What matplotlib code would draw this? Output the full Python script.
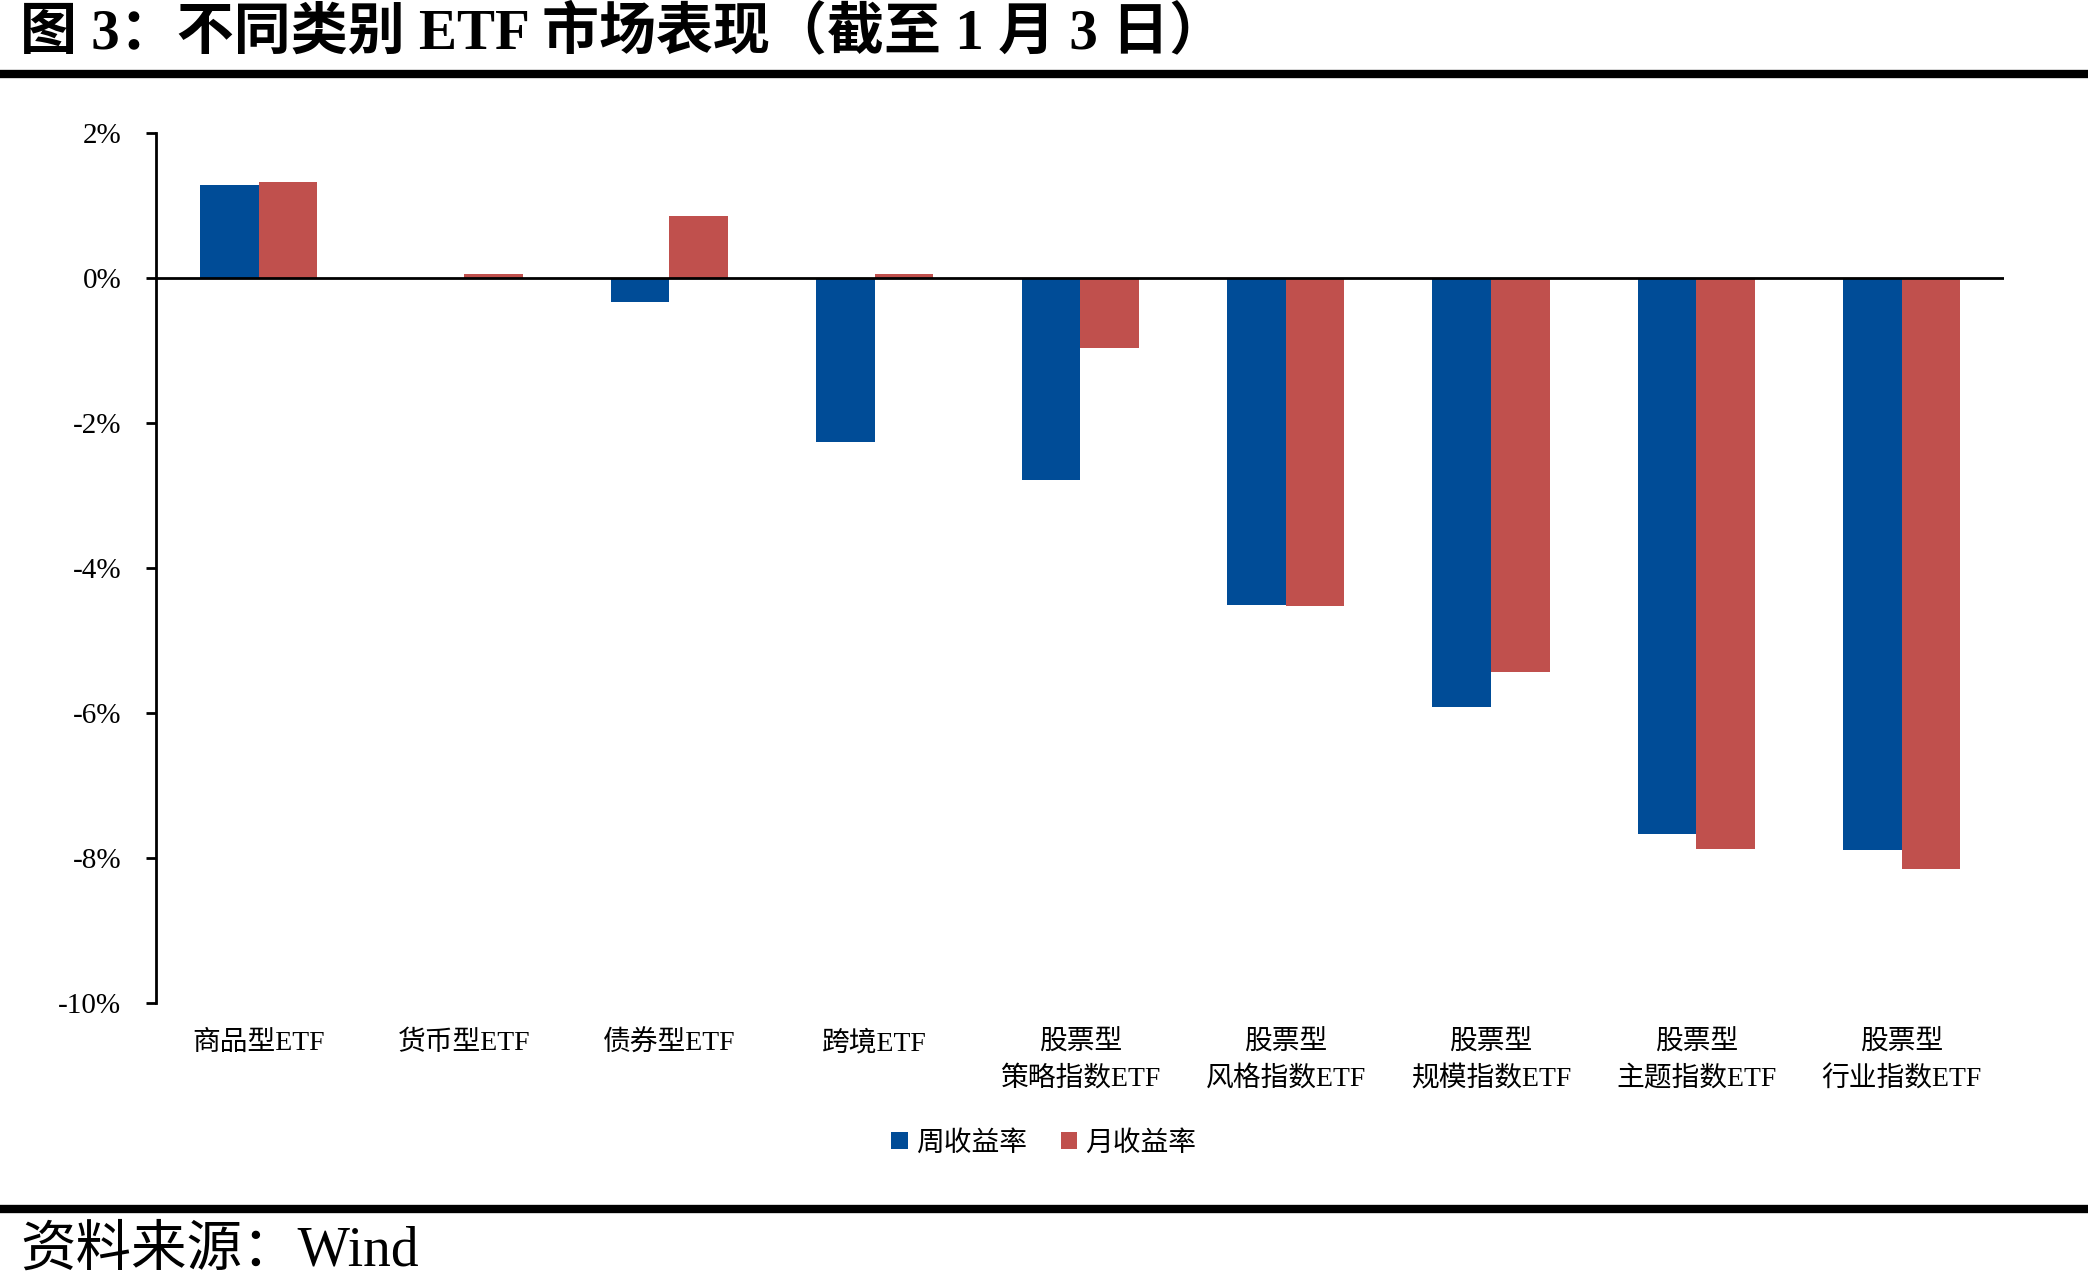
import matplotlib
matplotlib.use("Agg")
import matplotlib.pyplot as plt
import numpy as np
from matplotlib.lines import Line2D

plt.rcParams['font.family'] = ['Liberation Serif', 'Noto Sans CJK SC']

# data (%)
categories = ['商品型ETF', '货币型ETF', '债券型ETF', '跨境ETF',
              '股票型\n策略指数ETF', '股票型\n风格指数ETF', '股票型\n规模指数ETF',
              '股票型\n主题指数ETF', '股票型\n行业指数ETF']
weekly = [1.29, 0.00, -0.33, -2.26, -2.79, -4.51, -5.91, -7.67, -7.89]
monthly = [1.32, 0.06, 0.86, 0.05, -0.97, -4.53, -5.43, -7.87, -8.15]
series_names = ['周收益率', '月收益率']
yticks = [2, 0, -2, -4, -6, -8, -10]

color_w = '#004C97'
color_m = '#C0504D'

fig = plt.figure(figsize=(20.88, 12.82), dpi=100)
ax = fig.add_axes([0.0747, 0.2176, 0.8853, 0.6786])

x = np.arange(len(categories))
w = 0.285
ax.bar(x - w / 2, weekly, width=w, color=color_w, label=series_names[0], zorder=2)
ax.bar(x + w / 2, monthly, width=w, color=color_m, label=series_names[1], zorder=2)

ax.set_xlim(-0.5, len(categories) - 0.5)
ax.set_ylim(-10, 2)
ax.set_yticks(yticks)
ax.set_yticklabels([f'{v}%' for v in yticks], fontsize=21)
ax.set_xticks(x)
ax.set_xticklabels(categories, fontsize=20, linespacing=1.5)
ax.tick_params(axis='x', length=0, pad=20)
ax.tick_params(axis='y', length=7, width=2, direction='out', pad=18)

ax.axhline(0, color='black', lw=2, zorder=3)
for s in ['top', 'right', 'bottom']:
    ax.spines[s].set_visible(False)
ax.spines['left'].set_linewidth(2)

fig.legend(loc='center', bbox_to_anchor=(0.5, 0.108), ncol=2, frameon=False,
           fontsize=20, handlelength=0.6, handleheight=0.6, handletextpad=0.3,
           columnspacing=1.2)

# title and rules
fig.text(0.0096, 0.974, '图 3：不同类别 ETF 市场表现（截至 1 月 3 日）',
         fontsize=41, fontweight='bold', va='center', ha='left')
fig.add_artist(Line2D([0, 1], [1 - 74 / 1282, 1 - 74 / 1282], color='black', lw=6))
fig.add_artist(Line2D([0, 1], [1 - 1209 / 1282, 1 - 1209 / 1282], color='black', lw=6))
fig.text(0.0096, 1 - 1252 / 1282, '资料来源：Wind', fontsize=40, va='center', ha='left')

fig.savefig('out.png', dpi=100)
